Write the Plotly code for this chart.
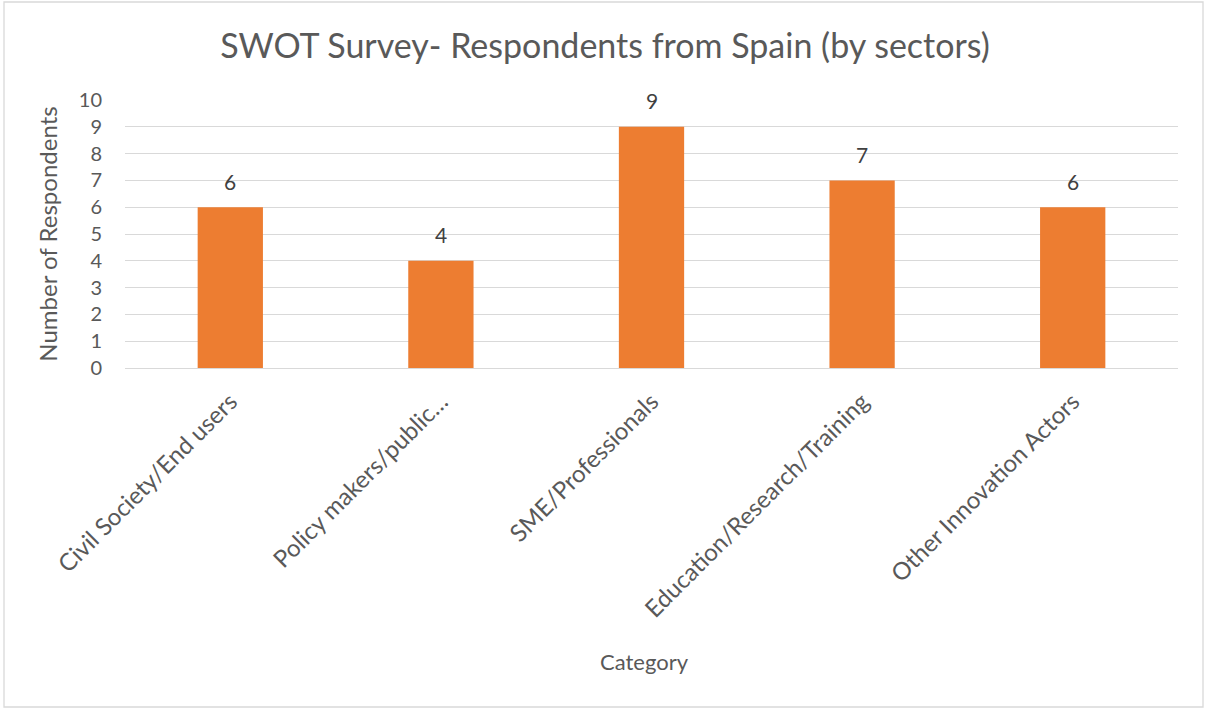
import plotly.graph_objects as go

categories = ["Civil Society/End users", "Policy makers/public…", "SME/Professionals",
              "Education/Research/Training", "Other Innovation Actors"]
values = [6, 4, 9, 7, 6]
y_ticks = list(range(0, 11))

W, H = 1208, 710
L, R, T, B = 125, 30, 100, 342
pw, ph = W - L - R, H - T - B

def px_x(x):
    return (x - L) / pw

def px_y(y):
    return (H - B - y) / ph

FONT = "Lato, 'Open Sans', sans-serif"
GRAY = "#595959"

fig = go.Figure(go.Bar(
    x=categories, y=values,
    marker=dict(color="#ED7D31", line=dict(width=0)),
    hoverinfo="x+y",
))

for c, v in zip(categories, values):
    fig.add_annotation(x=c, y=v, text=str(v), showarrow=False, yshift=26,
                       xanchor="center", yanchor="middle",
                       font=dict(size=21, color="#404040", family=FONT))

fig.update_layout(
    width=W, height=H,
    margin=dict(l=L, r=R, t=T, b=B, autoexpand=False),
    paper_bgcolor="white", plot_bgcolor="white",
    bargap=0.69,
    showlegend=False,
    title=dict(text="SWOT Survey- Respondents from Spain (by sectors)",
               x=px_x(605), xref="paper", xanchor="center",
               y=1 - 46 / H, yanchor="middle",
               font=dict(size=34, color=GRAY, family=FONT)),
    font=dict(family=FONT, color=GRAY),
    xaxis=dict(tickangle=-45, tickfont=dict(size=24, color=GRAY, family=FONT),
               showgrid=False, showline=False, ticks="", automargin=False,
               ticklabelstandoff=14),
    yaxis=dict(range=[0, 10], tickvals=y_ticks, tickfont=dict(size=20, color=GRAY, family=FONT),
               showgrid=True, gridcolor="#D9D9D9", gridwidth=1.3,
               zeroline=True, zerolinecolor="#D9D9D9", zerolinewidth=1.3,
               showline=False, ticks="", ticklabelstandoff=22, automargin=False,
               title=dict(text="Number of Respondents", standoff=14,
                          font=dict(size=24, color=GRAY, family=FONT))),
    shapes=[dict(type="rect", xref="paper", yref="paper",
                 x0=px_x(4), x1=px_x(1203), y0=px_y(2), y1=px_y(707),
                 line=dict(color="#D9D9D9", width=1.3), layer="below")],
)
fig.add_annotation(text="Category", xref="paper", yref="paper",
                   x=px_x(644), y=px_y(661), xanchor="center", yanchor="middle",
                   showarrow=False, font=dict(size=22, color=GRAY, family=FONT))

fig.write_html("out.html", config={"displayModeBar": False},
               post_script="document.body.style.margin='0';document.body.style.overflow='hidden';")
